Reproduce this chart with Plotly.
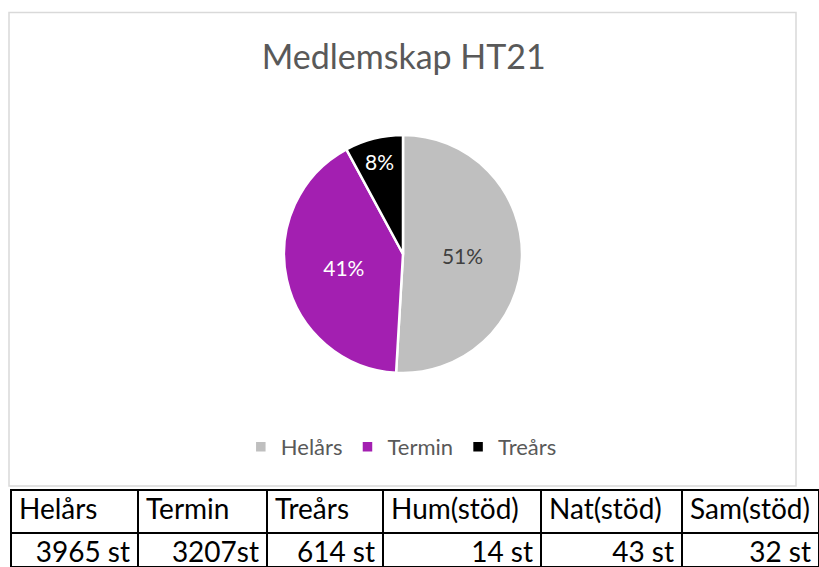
import plotly.graph_objects as go

# ---- data ----
categories = ["Helårs", "Termin", "Treårs"]
members = [3965, 3207, 614]
slice_colors = ["#bfbfbf", "#a31fb1", "#000000"]
label_colors = ["#404040", "#ffffff", "#ffffff"]

table_headers = ["Helårs", "Termin", "Treårs", "Hum(stöd)", "Nat(stöd)", "Sam(stöd)"]
table_values = ["3965 st", "3207st", "614 st", "14 st", "43 st", "32 st"]

title_text = "Medlemskap HT21"

W, H = 819, 567
FONT = "Lato"

# ---- layout geometry (pixels) ----
cx, cy, r = 403, 254, 119
col_edges = [11, 138, 267, 383, 541, 682, 819]
table_top = 490

fig = go.Figure()

fig.add_trace(go.Pie(
    labels=categories,
    values=members,
    sort=False,
    direction="clockwise",
    rotation=0,
    marker=dict(colors=slice_colors, line=dict(color="#ffffff", width=2.5)),
    textinfo="percent",
    texttemplate="%{percent:.0%}",
    textposition="inside",
    insidetextorientation="horizontal",
    insidetextfont=dict(family=FONT, size=21, color=label_colors),
    hoverinfo="label+value+percent",
    domain=dict(x=[(cx - r) / W, (cx + r) / W],
                y=[1 - (cy + r) / H, 1 - (cy - r) / H]),
    showlegend=True,
))

widths = [col_edges[i + 1] - col_edges[i] for i in range(len(col_edges) - 1)]
fig.add_trace(go.Table(
    domain=dict(x=[col_edges[0] / W, 1], y=[0, 1 - table_top / H]),
    columnwidth=widths,
    header=dict(
        values=table_headers,
        align="left",
        height=43,
        line=dict(color="#000000", width=2.5),
        fill=dict(color="#ffffff"),
        font=dict(family=FONT, size=28, color="#000000"),
    ),
    cells=dict(
        values=[[v] for v in table_values],
        align="right",
        height=34,
        line=dict(color="#000000", width=2.5),
        fill=dict(color="#ffffff"),
        font=dict(family=FONT, size=28, color="#000000"),
    ),
))

fig.update_layout(
    width=W, height=H,
    margin=dict(l=0, r=0, t=0, b=0),
    paper_bgcolor="#ffffff",
    plot_bgcolor="#ffffff",
    title=dict(text=title_text, x=0.493, xanchor="center", y=1 - 57 / H, yanchor="middle",
               font=dict(family=FONT, size=34, color="#595959")),
    legend=dict(orientation="h", x=0.49, xanchor="center", y=1 - 447 / H, yanchor="middle",
                font=dict(family=FONT, size=22, color="#595959"),
                itemwidth=30, tracegroupgap=0),
    shapes=[dict(type="rect", xref="paper", yref="paper",
                 x0=9 / W, x1=796 / W, y0=1 - 486 / H, y1=1 - 12.5 / H,
                 line=dict(color="#d9d9d9", width=1.5), layer="below")],
)

fig.write_html("out.html")
